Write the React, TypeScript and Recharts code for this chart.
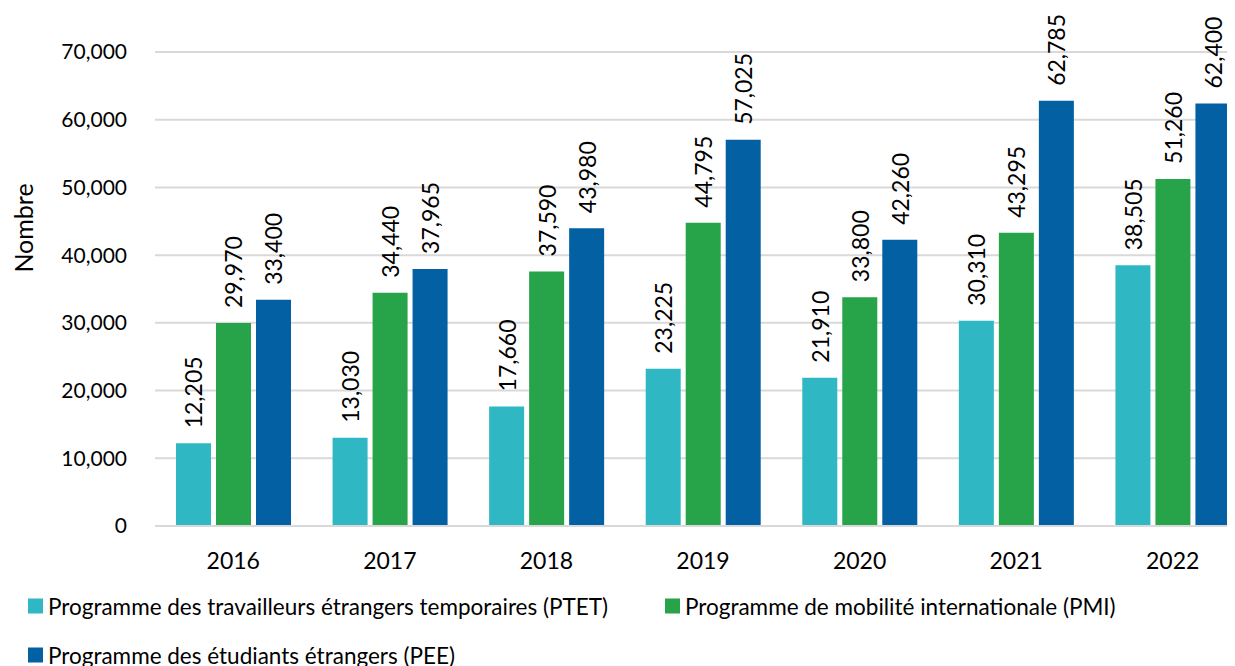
import React from 'react';
import { BarChart, Bar, XAxis, YAxis, CartesianGrid, Legend, LabelList } from 'recharts';

const years = ['2016', '2017', '2018', '2019', '2020', '2021', '2022'];
const ptet = [12205, 13030, 17660, 23225, 21910, 30310, 38505];
const pmi = [29970, 34440, 37590, 44795, 33800, 43295, 51260];
const pee = [33400, 37965, 43980, 57025, 42260, 62785, 62400];
const yTicks = [0, 10000, 20000, 30000, 40000, 50000, 60000, 70000];

const seriesNames = {
  ptet: 'Programme des travailleurs étrangers temporaires (PTET)',
  pmi: 'Programme de mobilité internationale (PMI)',
  pee: 'Programme des étudiants étrangers (PEE)',
};
const colors = { ptet: '#2FB8C3', pmi: '#27A34A', pee: '#0360A3' };

const data = years.map((y, i) => ({ year: y, ptet: ptet[i], pmi: pmi[i], pee: pee[i] }));

const FONT = 'Lato, "Open Sans", sans-serif';
const fmt = (v: number) => v.toLocaleString('en-US');

const ValueLabel = (props: any) => {
  const { x, y, width, value } = props;
  const cx = x + width / 2;
  const cy = y - 15;
  return (
    <text
      x={cx}
      y={cy}
      transform={`rotate(-90, ${cx}, ${cy})`}
      textAnchor="start"
      dominantBaseline="central"
      fontFamily={FONT}
      fontSize={23}
      fill="#000"
    >
      {fmt(value)}
    </text>
  );
};

const LegendContent = () => {
  const items = [
    { key: 'ptet', left: 28, top: 40 },
    { key: 'pmi', left: 665, top: 40 },
    { key: 'pee', left: 28, top: 89 },
  ];
  return (
    <div style={{ position: 'relative', width: 1235, height: 100, fontFamily: FONT, fontSize: 22.5, color: '#000' }}>
      {items.map((it) => (
        <div
          key={it.key}
          style={{ position: 'absolute', left: it.left, top: it.top, transform: 'translateY(-50%)', display: 'flex', alignItems: 'center', whiteSpace: 'nowrap' }}
        >
          <span style={{ display: 'inline-block', width: 15, height: 15, background: (colors as any)[it.key], marginRight: 5 }} />
          <span>{(seriesNames as any)[it.key]}</span>
        </div>
      ))}
    </div>
  );
};

export default function App() {
  return (
    <div style={{ margin: '-8px 0 0 -8px', width: 1235, height: 666, overflow: 'hidden', position: 'relative', background: '#fff' }}>
      <BarChart
        width={1262}
        height={666}
        data={data}
        margin={{ top: 52, right: 11, left: 0, bottom: 0 }}
        barCategoryGap={21}
        barGap={5}
      >
        <CartesianGrid vertical={false} stroke="#D9D9D9" strokeWidth={2} />
        <XAxis
          dataKey="year"
          height={40}
          tickLine={false}
          tickSize={0}
          tickMargin={27}
          axisLine={{ stroke: '#D9D9D9', strokeWidth: 2 }}
          tick={{ fontFamily: FONT, fontSize: 23, fill: '#000' }}
        />
        <YAxis
          width={155}
          domain={[0, 70000]}
          ticks={yTicks}
          tickFormatter={fmt}
          tickLine={false}
          axisLine={false}
          tickSize={0}
          tickMargin={28}
          tick={{ fontFamily: FONT, fontSize: 21, fill: '#000' }}
          label={{
            content: (p: any) => {
              const vb = p.viewBox;
              const lx = vb.x + 23;
              const ly = vb.y + vb.height / 2 - 61;
              return (
                <text x={lx} y={ly} transform={`rotate(-90, ${lx}, ${ly})`} textAnchor="middle" dominantBaseline="central" fontFamily={FONT} fontSize={25} fill="#000">
                  Nombre
                </text>
              );
            },
          }}
        />
        <Legend
          verticalAlign="bottom"
          content={<LegendContent />}
          wrapperStyle={{ left: 0, bottom: 0, width: 1235, height: 100 }}
        />
        <Bar dataKey="ptet" name={seriesNames.ptet} fill={colors.ptet} isAnimationActive={false}>
          <LabelList dataKey="ptet" content={ValueLabel} />
        </Bar>
        <Bar dataKey="pmi" name={seriesNames.pmi} fill={colors.pmi} isAnimationActive={false}>
          <LabelList dataKey="pmi" content={ValueLabel} />
        </Bar>
        <Bar dataKey="pee" name={seriesNames.pee} fill={colors.pee} isAnimationActive={false}>
          <LabelList dataKey="pee" content={ValueLabel} />
        </Bar>
      </BarChart>
    </div>
  );
}
